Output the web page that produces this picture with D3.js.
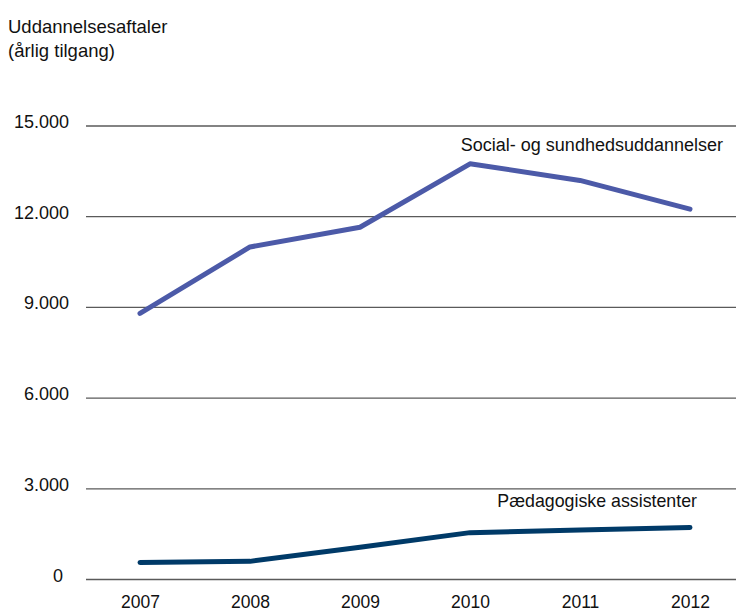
<!DOCTYPE html>
<html>
<head>
<meta charset="utf-8">
<script src="https://cdn.jsdelivr.net/npm/d3@7"></script>
<style>
  html, body { margin: 0; padding: 0; background: #fff; }
  svg { display: block; }
  text { font-family: "Liberation Sans", Arial, Helvetica, sans-serif; fill: #111; }
</style>
</head>
<body>
<svg id="chart" width="736" height="613"></svg>
<script>
const years = [2007, 2008, 2009, 2010, 2011, 2012];
const socialValues = [8800, 11000, 11650, 13750, 13200, 12250];
const paedValues = [560, 600, 1070, 1550, 1640, 1720];
const yTicks = [0, 3000, 6000, 9000, 12000, 15000];
const yTickLabels = ["0", "3.000", "6.000", "9.000", "12.000", "15.000"];
const titleLines = ["Uddannelsesaftaler", "(årlig tilgang)"];
const seriesNames = ["Social- og sundhedsuddannelser", "Pædagogiske assistenter"];

const svg = d3.select("#chart");
const x = d3.scalePoint().domain(years).range([140, 690]);
const y = d3.scaleLinear().domain([0, 15000]).range([579.5, 126]);

// gridlines
svg.append("g").selectAll("line").data(yTicks).join("line")
  .attr("x1", 86).attr("x2", 736)
  .attr("y1", d => y(d)).attr("y2", d => y(d))
  .attr("stroke", "#5a5a5a").attr("stroke-width", 1.3);

// y tick labels
svg.append("g").selectAll("text").data(yTicks).join("text")
  .attr("x", d => d === 0 ? 63 : 69)
  .attr("y", d => y(d) + 2)
  .attr("text-anchor", "end")
  .attr("font-size", 18)
  .text((d, i) => yTickLabels[i]);

// x labels
const xAxis = d3.axisBottom(x).tickSize(0).tickPadding(0);
const gx = svg.append("g").attr("transform", "translate(0,596)").call(xAxis);
gx.select(".domain").remove();
gx.selectAll("text").attr("font-size", 17.5).attr("dy", "0.71em")
  .style("font-family", '"Liberation Sans", Arial, sans-serif').attr("fill", "#111");

// title
svg.append("g").selectAll("text").data(titleLines).join("text")
  .attr("x", 8).attr("y", (d, i) => 33 + i * 24)
  .attr("font-size", 18.5)
  .text(d => d);

const line = d3.line().x((d, i) => x(years[i])).y(d => y(d));

svg.append("path").datum(socialValues)
  .attr("d", line).attr("fill", "none")
  .attr("stroke", "#4c5aa8").attr("stroke-width", 5)
  .attr("stroke-linejoin", "round").attr("stroke-linecap", "round");

svg.append("path").datum(paedValues)
  .attr("d", line).attr("fill", "none")
  .attr("stroke", "#003a68").attr("stroke-width", 5)
  .attr("stroke-linejoin", "round").attr("stroke-linecap", "round");

// series labels
svg.append("text").attr("x", 723).attr("y", 151).attr("text-anchor", "end")
  .attr("font-size", 18).text(seriesNames[0]);
svg.append("text").attr("x", 697).attr("y", 507).attr("text-anchor", "end")
  .attr("font-size", 17.8).text(seriesNames[1]);
</script>
</body>
</html>
